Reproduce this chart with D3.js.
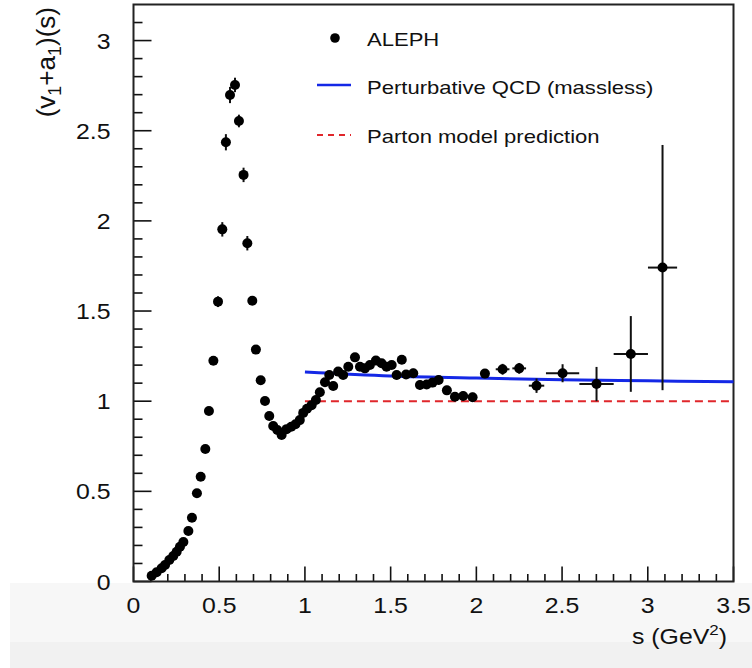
<!DOCTYPE html>
<html>
<head>
<meta charset="utf-8">
<script src="https://cdn.jsdelivr.net/npm/d3@7"></script>
<style>
  body { margin: 0; background: #fff; }
  svg { display: block; font-family: "Liberation Sans", Arial, sans-serif; }
</style>
</head>
<body>
<div id="chart"></div>
<script>
// ALEPH points : s (GeV^2), value, errors
var sVals = [0.106, 0.135, 0.164, 0.184, 0.209, 0.232, 0.252, 0.271, 0.291, 0.320,
             0.341, 0.370, 0.392, 0.419, 0.440, 0.466, 0.493, 0.518, 0.539, 0.563,
             0.592, 0.615, 0.642, 0.664, 0.693, 0.714, 0.742, 0.767, 0.792, 0.815,
             0.839, 0.864, 0.893, 0.920, 0.945, 0.970, 0.990, 1.012, 1.039, 1.064,
             1.087, 1.117, 1.142, 1.165, 1.194, 1.223, 1.253, 1.292, 1.321, 1.350,
             1.379, 1.414, 1.447, 1.476, 1.506, 1.535, 1.565, 1.590, 1.632, 1.671,
             1.710, 1.744, 1.780, 1.828, 1.875, 1.923, 1.978, 2.050, 2.153, 2.250,
             2.351, 2.503, 2.701, 2.901, 3.086];
var vVals = [0.032, 0.051, 0.073, 0.092, 0.119, 0.141, 0.165, 0.193, 0.219, 0.280,
             0.354, 0.489, 0.581, 0.735, 0.946, 1.224, 1.552, 1.953, 2.436, 2.698,
             2.754, 2.554, 2.255, 1.876, 1.557, 1.286, 1.116, 1.001, 0.918, 0.862,
             0.840, 0.813, 0.845, 0.858, 0.872, 0.895, 0.935, 0.958, 0.978, 1.007,
             1.050, 1.105, 1.145, 1.084, 1.164, 1.145, 1.191, 1.243, 1.191, 1.182,
             1.201, 1.225, 1.210, 1.191, 1.201, 1.145, 1.230, 1.148, 1.155, 1.090,
             1.093, 1.103, 1.118, 1.060, 1.025, 1.029, 1.022, 1.153, 1.177, 1.182,
             1.086, 1.155, 1.095, 1.262, 1.741];
var vErr = [0.005, 0.005, 0.005, 0.005, 0.006, 0.006, 0.007, 0.008, 0.009, 0.010,
            0.012, 0.014, 0.015, 0.018, 0.020, 0.022, 0.030, 0.040, 0.045, 0.045,
            0.040, 0.035, 0.040, 0.040, 0.020, 0.015, 0.012, 0.010, 0.010, 0.010,
            0.010, 0.010, 0.010, 0.010, 0.010, 0.012, 0.012, 0.012, 0.012, 0.014,
            0.014, 0.015, 0.015, 0.015, 0.016, 0.016, 0.018, 0.020, 0.020, 0.020,
            0.020, 0.020, 0.022, 0.022, 0.022, 0.024, 0.024, 0.024, 0.025, 0.025,
            0.025, 0.025, 0.025, 0.025, 0.025, 0.025, 0.025, 0.025, 0.030, 0.030,
            0.040, 0.050, 0.095, 0.210, 0.680];
var sErr = [0, 0, 0, 0, 0, 0, 0, 0, 0, 0,
            0, 0, 0, 0, 0, 0, 0, 0, 0, 0,
            0, 0, 0, 0, 0, 0, 0, 0, 0, 0,
            0, 0, 0, 0, 0, 0, 0, 0, 0, 0,
            0, 0, 0, 0, 0, 0, 0, 0, 0, 0,
            0, 0, 0, 0, 0, 0, 0, 0, 0, 0,
            0, 0, 0, 0, 0, 0, 0, 0.025, 0.040, 0.040,
            0.045, 0.097, 0.100, 0.100, 0.085];

// perturbative QCD (massless) curve
var qcdS = [1.0, 1.5, 2.0, 2.5, 3.0, 3.5];
var qcdV = [1.162, 1.140, 1.128, 1.119, 1.113, 1.108];
// parton model
var partonS = [1.0, 3.5];
var partonV = [1.0, 1.0];

var xTicks = [0, 0.5, 1, 1.5, 2, 2.5, 3, 3.5];
var yTicks = [0, 0.5, 1, 1.5, 2, 2.5, 3];

var legendLabels = ["ALEPH", "Perturbative QCD (massless)", "Parton model prediction"];

var w = 752, h = 668;
var svg = d3.select("#chart").append("svg")
            .attr("width", w)
            .attr("height", h);

// grey strip at the bottom of the screenshot
svg.append("rect").attr("x", 10).attr("y", 583).attr("width", w - 10).attr("height", 59).attr("fill", "#f7f7f7");
svg.append("rect").attr("x", 10).attr("y", 642).attr("width", w - 10).attr("height", 26).attr("fill", "#f1f1f1");

var x = d3.scaleLinear().domain([0, 3.5]).range([133.5, 733.5]);
var y = d3.scaleLinear().domain([0, 3.2]).range([581.5, 4.5]);

// the picture is a bit wider than tall, text too
var stretch = 1.13;

// axes, ROOT style ticks pointing inside
var gx = svg.append("g").attr("transform", "translate(0," + y(0) + ")");
gx.selectAll("line.tk")
  .data(d3.range(0, 36))
  .enter().append("line")
  .attr("x1", function(d) { return x(d / 10); })
  .attr("x2", function(d) { return x(d / 10); })
  .attr("y1", 0)
  .attr("y2", function(d) { return d % 5 == 0 ? -15 : -7.5; })
  .attr("stroke", "#111").attr("stroke-width", 1.6);
gx.selectAll("text")
  .data(xTicks)
  .enter().append("text")
  .attr("transform", function(d) { return "translate(" + x(d) + ",31) scale(" + stretch + ",1)"; })
  .attr("text-anchor", "middle")
  .attr("font-size", "22px")
  .attr("fill", "#111")
  .text(function(d) { return d; });

var gy = svg.append("g").attr("transform", "translate(" + x(0) + ",0)");
gy.selectAll("line.tk")
  .data(d3.range(0, 32))
  .enter().append("line")
  .attr("y1", function(d) { return y(d / 10); })
  .attr("y2", function(d) { return y(d / 10); })
  .attr("x1", 0)
  .attr("x2", function(d) { return d % 5 == 0 ? 18 : 9; })
  .attr("stroke", "#111").attr("stroke-width", 1.6);
gy.selectAll("text")
  .data(yTicks)
  .enter().append("text")
  .attr("transform", function(d) { return "translate(-23," + (y(d) + 8) + ") scale(" + stretch + ",1)"; })
  .attr("text-anchor", "end")
  .attr("font-size", "22px")
  .attr("fill", "#111")
  .text(function(d) { return d; });

// frame
svg.append("rect")
   .attr("x", x(0)).attr("y", y(3.2))
   .attr("width", x(3.5) - x(0)).attr("height", y(0) - y(3.2))
   .attr("fill", "none").attr("stroke", "#222").attr("stroke-width", 2);

// lines
var line = d3.line().x(function(d) { return x(d[0]); }).y(function(d) { return y(d[1]); });
svg.append("path")
   .datum(d3.zip(partonS, partonV))
   .attr("d", line)
   .attr("fill", "none").attr("stroke", "#e0262b").attr("stroke-width", 2)
   .attr("stroke-dasharray", "8,5");
svg.append("path")
   .datum(d3.zip(qcdS, qcdV))
   .attr("d", d3.line().curve(d3.curveMonotoneX).x(function(d) { return x(d[0]); }).y(function(d) { return y(d[1]); }))
   .attr("fill", "none").attr("stroke", "#1428e6").attr("stroke-width", 3);

// data points with error bars
var pts = d3.range(sVals.length);
var gp = svg.append("g");
gp.selectAll("line.ey")
  .data(pts).enter().append("line")
  .attr("x1", function(i) { return x(sVals[i]); })
  .attr("x2", function(i) { return x(sVals[i]); })
  .attr("y1", function(i) { return y(vVals[i] - vErr[i]); })
  .attr("y2", function(i) { return y(vVals[i] + vErr[i]); })
  .attr("stroke", "#111").attr("stroke-width", 2);
gp.selectAll("line.ex")
  .data(pts.filter(function(i) { return sErr[i] > 0; })).enter().append("line")
  .attr("x1", function(i) { return x(sVals[i] - sErr[i]); })
  .attr("x2", function(i) { return x(sVals[i] + sErr[i]); })
  .attr("y1", function(i) { return y(vVals[i]); })
  .attr("y2", function(i) { return y(vVals[i]); })
  .attr("stroke", "#111").attr("stroke-width", 2);
gp.selectAll("circle")
  .data(pts).enter().append("circle")
  .attr("cx", function(i) { return x(sVals[i]); })
  .attr("cy", function(i) { return y(vVals[i]); })
  .attr("r", 5)
  .attr("fill", "#000");

// legend
var lg = svg.append("g");
lg.append("circle").attr("cx", 335).attr("cy", 38).attr("r", 4.8).attr("fill", "#000");
lg.append("line").attr("x1", 317).attr("x2", 351).attr("y1", 85).attr("y2", 85)
  .attr("stroke", "#1428e6").attr("stroke-width", 2.5);
lg.append("line").attr("x1", 317).attr("x2", 351).attr("y1", 135).attr("y2", 135)
  .attr("stroke", "#e0262b").attr("stroke-width", 2).attr("stroke-dasharray", "6,5");
lg.selectAll("text")
  .data(legendLabels).enter().append("text")
  .attr("transform", function(d, i) { return "translate(367," + (45.5 + i * 48.5) + ") scale(1.16,1)"; })
  .attr("font-size", "19px")
  .attr("fill", "#111")
  .text(function(d) { return d; });

// axis titles
var yt = svg.append("text")
   .attr("transform", "translate(55,7) rotate(-90)")
   .attr("text-anchor", "end")
   .attr("font-size", "26px")
   .attr("fill", "#111");
yt.append("tspan").text("(v");
yt.append("tspan").attr("font-size", "18px").attr("dy", 6).text("1");
yt.append("tspan").attr("dy", -6).text("+a");
yt.append("tspan").attr("font-size", "18px").attr("dy", 6).text("1");
yt.append("tspan").attr("dy", -6).text(")(s)");

var xt = svg.append("text")
   .attr("transform", "translate(727,644) scale(" + stretch + ",1)")
   .attr("text-anchor", "end")
   .attr("font-size", "22px")
   .attr("fill", "#111");
xt.append("tspan").text("s (GeV");
xt.append("tspan").attr("font-size", "15px").attr("dy", -9).text("2");
xt.append("tspan").attr("dy", 9).text(")");
</script>
</body>
</html>
